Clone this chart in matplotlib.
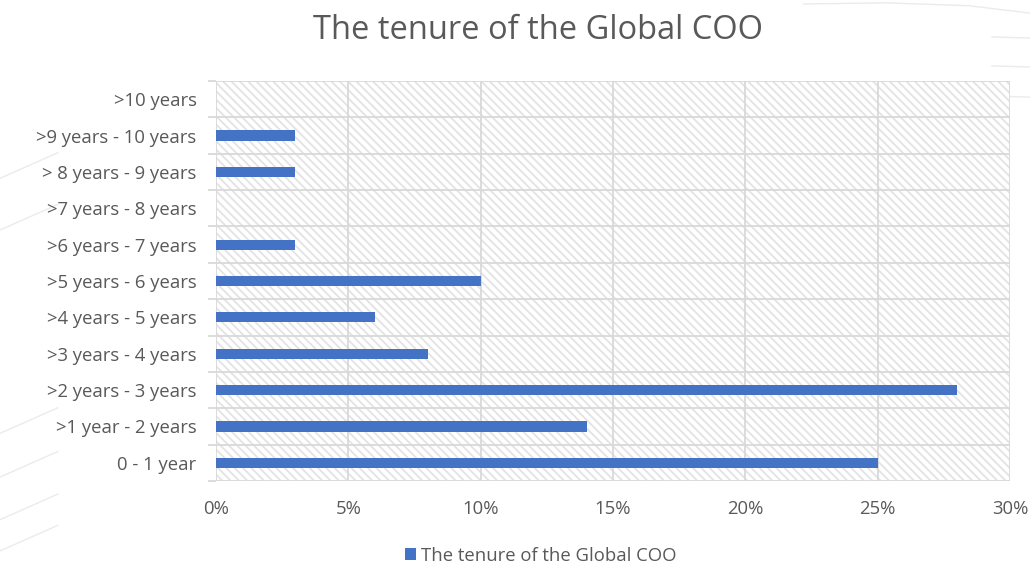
import matplotlib.pyplot as plt
from matplotlib.patches import Rectangle
from matplotlib.lines import Line2D
from matplotlib.ticker import PercentFormatter

categories = ["0 - 1 year", ">1 year - 2 years", ">2 years - 3 years", ">3 years - 4 years",
              ">4 years - 5 years", ">5 years - 6 years", ">6 years - 7 years",
              ">7 years - 8 years", "> 8 years - 9 years", ">9 years - 10 years", ">10 years"]
values = [25, 14, 28, 8, 6, 10, 3, 0, 3, 3, 0]
series_name = "The tenure of the Global COO"
xticks = [0, 5, 10, 15, 20, 25, 30]

plt.rcParams['font.family'] = ['Open Sans', 'DejaVu Sans']
plt.rcParams['hatch.linewidth'] = 1.3
txt = '#595959'
grid = '#d9d9d9'
blue = '#4472c4'

fig = plt.figure(figsize=(10.30, 5.68), dpi=100)
ax = fig.add_axes([0.2097, 0.1532, 0.7709, 0.7042])

# faint decorative background lines
for y0 in [0.686, 0.595, 0.237, 0.16, 0.085, 0.03]:
    fig.add_artist(Line2D([0.0, 0.056], [y0, y0 + 0.045], color='#ebebeb', lw=1, zorder=0))
for y in [0.935, 0.884, 0.831]:
    fig.add_artist(Line2D([0.963, 1.0], [y, y - 0.002], color='#ebebeb', lw=1, zorder=0))
fig.add_artist(Line2D([0.78, 0.86, 0.94, 1.0], [0.993, 0.995, 0.99, 0.977], color='#ebebeb', lw=1, zorder=0))

ax.add_patch(Rectangle((0, 0), 1, 1, transform=ax.transAxes, facecolor='white',
                       edgecolor='#e3e3e3', lw=0, hatch='\\\\\\\\', zorder=0))

ypos = list(range(len(categories)))
ax.barh(ypos, values, height=0.28, color=blue, zorder=3, label=series_name)

ax.set_xlim(0, 30)
ax.set_ylim(-0.5, len(categories) - 0.5)
ax.set_xticks(xticks)
ax.xaxis.set_major_formatter(PercentFormatter(decimals=0))
ax.set_yticks(ypos)
ax.set_yticklabels(categories)
ax.set_yticks([i - 0.5 for i in range(len(categories) + 1)], minor=True)

for x in xticks:
    ax.axvline(x, color=grid, lw=1.3, zorder=1)
for i in range(len(categories) + 1):
    ax.axhline(i - 0.5, color=grid, lw=1.3, zorder=1)

for s in ax.spines.values():
    s.set_visible(False)
ax.tick_params(axis='y', which='major', length=0, pad=14, labelsize=13.3, labelcolor=txt)
ax.tick_params(axis='y', which='minor', length=6, color=grid, width=1.3)
ax.tick_params(axis='x', length=0, pad=14, labelsize=13.3, labelcolor=txt)

fig.text(0.522, 0.947, "The tenure of the Global COO", ha='center', va='center',
         fontsize=23.5, color=txt)
fig.legend(loc='center', bbox_to_anchor=(0.525, 0.022), frameon=False, fontsize=13.3,
           labelcolor=txt, handlelength=0.6, handleheight=0.6, handletextpad=0.3)

fig.savefig('out.png', dpi=100)
